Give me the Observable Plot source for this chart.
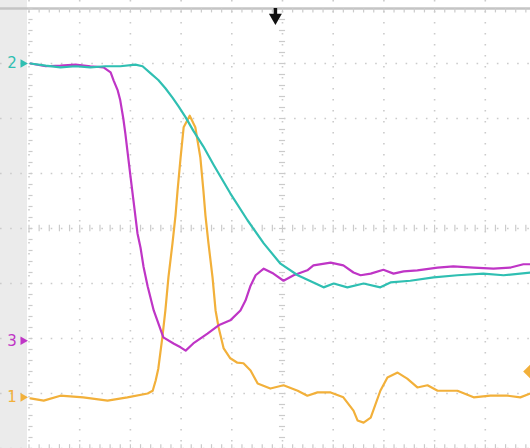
<!DOCTYPE html>
<html>
<head>
<meta charset="utf-8">
<script src="https://cdn.jsdelivr.net/npm/d3@7"></script>
<script src="https://cdn.jsdelivr.net/npm/@observablehq/plot@0.6"></script>
<style>
  html, body { margin: 0; padding: 0; background: #fff; }
  #chart svg { display: block; background: linear-gradient(to right, #ebebeb 0 27px, #ffffff 27px); }
</style>
</head>
<body>
<div id="chart"></div>
<script>
// Time axis in divisions (10 div across), amplitude in divisions (8 div tall)
const ch2X = [0.03,0.33,0.62,0.92,1.21,1.51,1.80,2.10,2.24,2.40,2.55,2.69,2.83,2.95,3.09,3.24,3.44,3.64,3.97,4.31,4.63,4.96,5.30,5.61,5.81,6.01,6.28,6.60,6.93,7.13,7.52,7.98,8.45,8.96,9.36,9.89];
const ch2Y = [7.00,6.96,6.93,6.95,6.93,6.95,6.95,6.98,6.95,6.82,6.70,6.55,6.38,6.22,6.02,5.78,5.49,5.16,4.64,4.15,3.73,3.36,3.15,3.02,2.93,3.00,2.93,3.00,2.93,3.02,3.05,3.11,3.15,3.18,3.15,3.20];

const ch3X = [0.03,0.33,0.62,0.92,1.21,1.47,1.61,1.67,1.75,1.80,1.86,1.90,1.94,2.00,2.06,2.14,2.20,2.26,2.34,2.46,2.65,2.85,2.99,3.09,3.24,3.52,3.74,3.97,4.17,4.27,4.37,4.47,4.63,4.82,5.02,5.22,5.49,5.61,5.95,6.20,6.40,6.54,6.74,6.99,7.19,7.39,7.66,8.06,8.37,8.77,9.16,9.50,9.75,9.89];
const ch3Y = [7.00,6.95,6.96,6.98,6.95,6.93,6.84,6.69,6.51,6.33,6.00,5.73,5.42,4.96,4.51,3.91,3.65,3.30,2.95,2.51,2.02,1.91,1.84,1.78,1.91,2.09,2.24,2.33,2.51,2.69,2.96,3.15,3.27,3.18,3.05,3.15,3.24,3.33,3.38,3.33,3.20,3.15,3.18,3.25,3.18,3.22,3.24,3.29,3.31,3.29,3.27,3.29,3.35,3.35];

const ch1X = [0.03,0.29,0.62,1.07,1.55,1.94,2.34,2.44,2.50,2.55,2.63,2.69,2.75,2.83,2.89,2.93,2.99,3.05,3.17,3.28,3.38,3.44,3.48,3.54,3.62,3.68,3.74,3.84,3.97,4.11,4.23,4.37,4.51,4.76,5.02,5.30,5.49,5.69,5.95,6.20,6.40,6.48,6.60,6.74,6.93,7.07,7.27,7.46,7.66,7.86,8.06,8.45,8.77,9.10,9.44,9.69,9.89];
const ch1Y = [0.91,0.87,0.96,0.93,0.87,0.93,1.00,1.05,1.24,1.45,2.02,2.51,3.11,3.73,4.24,4.69,5.29,5.84,6.05,5.84,5.29,4.69,4.24,3.73,3.11,2.51,2.20,1.82,1.64,1.56,1.55,1.42,1.18,1.09,1.15,1.05,0.96,1.02,1.02,0.93,0.69,0.51,0.47,0.56,1.05,1.29,1.38,1.27,1.11,1.15,1.05,1.05,0.93,0.96,0.96,0.93,1.00];

// Channel reference markers (label, level)
const markerLabels = ["2", "3", "1"];
const markerLevels = [7.00, 1.96, 0.93];
const markerColors = ["#2fbfb2", "#bf35c6", "#f2b03a"];

// Trigger position (time) and trigger level (amplitude)
const triggerTime = 4.86;
const triggerLevel = 1.40;

// Graticule
const gridX = [0,1,2,3,4,5,6,7,8,9,10];
const gridY = [0,1,2,3,4,5,6,7];
const minorX = d3.range(0, 10.01, 0.2);
const minorY = d3.range(0, 8.01, 0.2);

const zip = (xs, ys) => xs.map((x, i) => ({x, y: ys[i]}));
const ch1 = zip(ch1X, ch1Y), ch2 = zip(ch2X, ch2Y), ch3 = zip(ch3X, ch3Y);
const markers = markerLabels.map((t, i) => ({t, y: markerLevels[i], c: markerColors[i]}));

const grid = "#cbcbcb";
const chart = Plot.plot({
  width: 530,
  height: 448,
  marginLeft: 0, marginRight: 0, marginTop: 0, marginBottom: 0,
  x: {domain: [0, 10], range: [28.5, 535.5], axis: null},
  y: {domain: [0, 8], range: [448, 8], axis: null},
  style: {overflow: "hidden"},
  marks: [
    Plot.ruleX(gridX, {x: d => d, stroke: grid, strokeWidth: 1.6, strokeDasharray: "1.6,9.4"}),
    Plot.ruleY(gridY, {y: d => d, stroke: grid, strokeWidth: 1.6, strokeDasharray: "1.6,8.54"}),
    // centre lines with minor ticks
    Plot.ruleY(minorY, {y: d => d, x1: 4.94, x2: 5.06, stroke: grid, strokeWidth: 1.2}),
    Plot.ruleX(minorX, {x: d => d, y1: 3.94, y2: 4.06, stroke: grid, strokeWidth: 1.2}),
    // top border with ticks
    Plot.ruleY([8], {y: d => d, stroke: "#c4c4c4", strokeWidth: 2.5}),
    Plot.ruleX(minorX, {x: d => d, y1: 7.92, y2: 8, stroke: grid, strokeWidth: 1.2}),
    Plot.ruleX(minorX, {x: d => d, y1: 0, y2: 0.07, stroke: grid, strokeWidth: 1.2}),
    // left edge ticks
    Plot.ruleY(minorY, {y: d => d, x1: 0, x2: 0.08, stroke: grid, strokeWidth: 1.2}),
    // traces
    Plot.line(ch1, {x: "x", y: "y", stroke: markerColors[2], strokeWidth: 2.2, curve: "linear"}),
    Plot.line(ch3, {x: "x", y: "y", stroke: markerColors[1], strokeWidth: 2.2, curve: "linear"}),
    Plot.line(ch2, {x: "x", y: "y", stroke: markerColors[0], strokeWidth: 2.2, curve: "linear"}),
    // channel markers on the left
    Plot.text(markers, {x: () => 0, y: "y", text: "t", fill: "c", dx: -17, fontSize: 15, fontFamily: "DejaVu Sans", textAnchor: "middle"}),
    Plot.dot(markers, {x: () => 0, y: "y", fill: "c", symbol: "triangle", rotate: 90, r: 3.2, dx: -6}),
    // trigger position arrow
    Plot.ruleX([triggerTime], {x: d => d, y1: 8, y2: 7.86, stroke: "#111", strokeWidth: 3.5}),
    Plot.dot([triggerTime], {x: d => d, y: () => 8, dy: 9, symbol: "triangle", rotate: 180, r: 4.8, fill: "#111"}),
    // trigger level diamond at right
    Plot.dot([triggerLevel], {x: () => 9.89, y: d => d, symbol: "diamond2", r: 6.5, fill: markerColors[2]})
  ]
});
document.getElementById("chart").appendChild(chart);
</script>
</body>
</html>
